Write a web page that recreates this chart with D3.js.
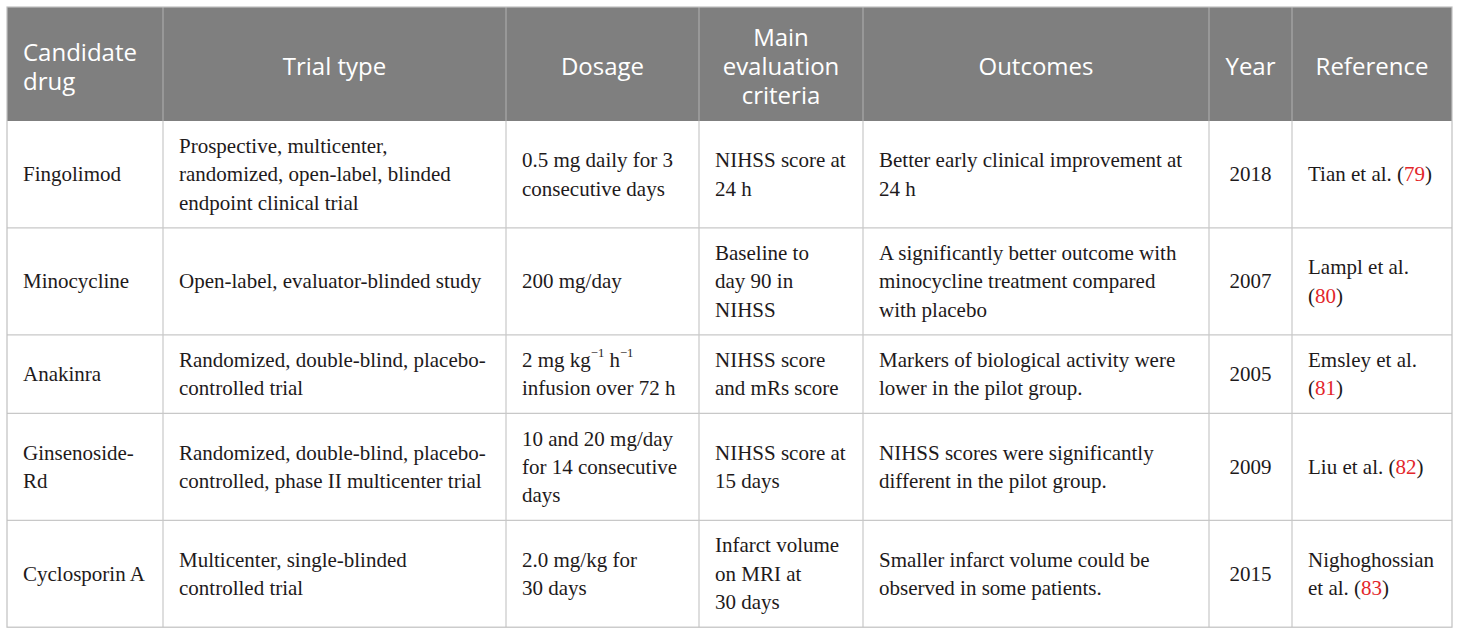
<!DOCTYPE html>
<html>
<head>
<meta charset="utf-8">
<script src="https://cdn.jsdelivr.net/npm/d3@7"></script>
<style>
  body { margin: 0; background: #fff; }
</style>
</head>
<body>
<div id="chart"></div>
<script>
// table content ("\n" = line break, ^{..} = superscript, [..] = red citation)
const headers = ['Candidate\ndrug', 'Trial type', 'Dosage', 'Main\nevaluation\ncriteria', 'Outcomes', 'Year', 'Reference']

const drugs = ['Fingolimod', 'Minocycline', 'Anakinra', 'Ginsenoside-\nRd', 'Cyclosporin A']

const trialTypes = [
  'Prospective, multicenter,\nrandomized, open-label, blinded\nendpoint clinical trial',
  'Open-label, evaluator-blinded study',
  'Randomized, double-blind, placebo-\ncontrolled trial',
  'Randomized, double-blind, placebo-\ncontrolled, phase II multicenter trial',
  'Multicenter, single-blinded\ncontrolled trial'
]

const dosages = [
  '0.5 mg daily for 3\nconsecutive days',
  '200 mg/day',
  '2 mg kg^{−1} h^{−1}\ninfusion over 72 h',
  '10 and 20 mg/day\nfor 14 consecutive\ndays',
  '2.0 mg/kg for\n30 days'
]

const criteria = [
  'NIHSS score at\n24 h',
  'Baseline to\nday 90 in\nNIHSS',
  'NIHSS score\nand mRs score',
  'NIHSS score at\n15 days',
  'Infarct volume\non MRI at\n30 days'
]

const outcomes = [
  'Better early clinical improvement at\n24 h',
  'A significantly better outcome with\nminocycline treatment compared\nwith placebo',
  'Markers of biological activity were\nlower in the pilot group.',
  'NIHSS scores were significantly\ndifferent in the pilot group.',
  'Smaller infarct volume could be\nobserved in some patients.'
]

const years = ['2018', '2007', '2005', '2009', '2015']

const references = [
  'Tian et al. ([79])',
  'Lampl et al.\n([80])',
  'Emsley et al.\n([81])',
  'Liu et al. ([82])',
  'Nighoghossian\net al. ([83])'
]

// layout
const width = 1460
const height = 634
const tableLeft = 7
const tableTop = 7
const colWidths = [156, 343, 193, 164, 346, 83, 160]
const pad = 16
const headLine = 29
const bodyLine = 28.3

const columns = [drugs, trialTypes, dosages, criteria, outcomes, years, references]
const rows = drugs.map((d, i) => columns.map(c => c[i]))

const colX = d3
  .scaleOrdinal()
  .domain(d3.range(headers.length))
  .range(d3.cumsum([tableLeft].concat(colWidths)))

const lines = s => s.split('\n')

const headHeight = d3.max(headers, h => lines(h).length) * headLine + 27
const rowHeights = rows.map(r => d3.max(r, c => lines(c).length) * bodyLine + 22)
const rowY = d3.cumsum([tableTop + headHeight].concat(rowHeights))
const tableRight = tableLeft + d3.sum(colWidths)
const tableBottom = rowY[rowY.length - 1]

const svg = d3
  .select('#chart')
  .append('svg')
  .attr('width', width)
  .attr('height', height)

// header background
svg
  .append('rect')
  .attr('x', tableLeft)
  .attr('y', tableTop)
  .attr('width', tableRight - tableLeft)
  .attr('height', headHeight)
  .attr('fill', '#7f7f7f')

// writes one cell's text with markup
function writeCell(g, text, x, yMid, lineH, anchor, opts) {
  const ls = lines(text)
  ls.forEach((line, i) => {
    const t = g
      .append('text')
      .attr('x', x)
      .attr('y', yMid + (i - (ls.length - 1) / 2) * lineH)
      .attr('dominant-baseline', 'central')
      .attr('text-anchor', anchor)
      .attr('font-family', opts.font)
      .attr('font-size', opts.size)
      .attr('fill', opts.color)
    const parts = line.split(/(\^\{[^}]*\}|\[[^\]]*\])/).filter(p => p !== '')
    let shifted = false
    parts.forEach(p => {
      if (p.startsWith('^{')) {
        t.append('tspan')
          .attr('dy', -7)
          .attr('font-size', opts.size * 0.6)
          .text(p.slice(2, -1))
        shifted = true
      } else {
        const ts = t.append('tspan')
        if (shifted) {
          ts.attr('dy', 7)
          shifted = false
        }
        if (p.startsWith('[')) {
          ts.attr('fill', '#e3262b').text(p.slice(1, -1))
        } else {
          ts.text(p)
        }
      }
    })
  })
}

// header text
const headG = svg.append('g').attr('class', 'header')
headers.forEach((h, j) => {
  const x0 = colX(j)
  const anchor = j === 0 ? 'start' : 'middle'
  const x = j === 0 ? x0 + pad : x0 + colWidths[j] / 2
  writeCell(headG, h, x, tableTop + headHeight / 2 + 1, headLine, anchor, {
    font: "'Open Sans', sans-serif",
    size: 24,
    color: '#fff'
  })
})

// body text
const bodyG = svg.append('g').attr('class', 'body')
rows.forEach((r, i) => {
  const yMid = (rowY[i] + rowY[i + 1]) / 2
  r.forEach((cell, j) => {
    const x0 = colX(j)
    const centered = j === 5
    const x = centered ? x0 + colWidths[j] / 2 : x0 + pad
    writeCell(bodyG, cell, x, yMid, bodyLine, centered ? 'middle' : 'start', {
      font: "'Liberation Serif', 'Times New Roman', serif",
      size: 21,
      color: '#1e1a1b'
    })
  })
})

// grid lines
const grid = svg.append('g').attr('class', 'grid')

// header column separators
grid
  .selectAll('.head-sep')
  .data(d3.range(1, headers.length))
  .enter()
  .append('line')
  .attr('x1', d => colX(d))
  .attr('x2', d => colX(d))
  .attr('y1', tableTop)
  .attr('y2', tableTop + headHeight)
  .attr('stroke', '#a9a9a9')
  .attr('stroke-width', 1.2)

// body column separators
grid
  .selectAll('.body-sep')
  .data(d3.range(1, headers.length))
  .enter()
  .append('line')
  .attr('x1', d => colX(d))
  .attr('x2', d => colX(d))
  .attr('y1', tableTop + headHeight)
  .attr('y2', tableBottom)
  .attr('stroke', '#c8c8c8')
  .attr('stroke-width', 1.2)

// row separators
grid
  .selectAll('.row-sep')
  .data(rowY.slice(1, -1))
  .enter()
  .append('line')
  .attr('x1', tableLeft)
  .attr('x2', tableRight)
  .attr('y1', d => d)
  .attr('y2', d => d)
  .attr('stroke', '#c8c8c8')
  .attr('stroke-width', 1.2)

// outer border
grid
  .append('rect')
  .attr('x', tableLeft)
  .attr('y', tableTop)
  .attr('width', tableRight - tableLeft)
  .attr('height', tableBottom - tableTop)
  .attr('fill', 'none')
  .attr('stroke', '#c0c0c0')
  .attr('stroke-width', 1.2)
</script>
</body>
</html>
